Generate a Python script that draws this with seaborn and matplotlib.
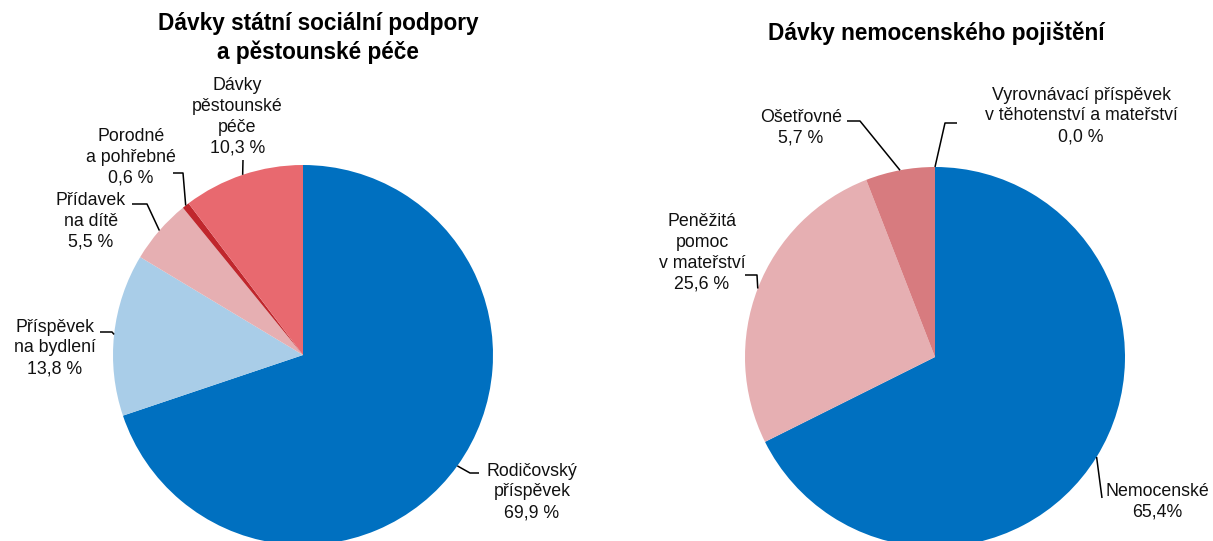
import matplotlib
matplotlib.use("Agg")
import matplotlib.pyplot as plt
import seaborn as sns
import numpy as np

# ---------------- data ----------------
left_title = "Dávky státní sociální podpory\na pěstounské péče"
left_labels = ["Rodičovský\npříspěvek", "Příspěvek\nna bydlení", "Přídavek\nna dítě",
               "Porodné\na pohřebné", "Dávky\npěstounské\npéče"]
left_values = [69.9, 13.8, 5.5, 0.6, 10.3]

right_title = "Dávky nemocenského pojištění"
right_labels = ["Nemocenské", "Peněžitá\npomoc\nv mateřství", "Ošetřovné",
                "Vyrovnávací příspěvek\nv těhotenství a mateřství"]
right_values = [65.4, 25.6, 5.7, 0.0]
right_pct_sep = ["", " ", " ", " "]

# ---------------- style ----------------
left_colors = ["#0070C0", "#A9CDE8", "#E6AFB2", "#C0272D", "#E8696F"]
right_colors = ["#0070C0", "#E6AFB2", "#D77B7F", "#C0272D"]

sns.set_theme(style="white")
plt.rcParams['font.family'] = ['Liberation Sans', 'DejaVu Sans']

W, H = 1213, 541
fig = plt.figure(figsize=(W / 100, H / 100), dpi=100)
ax = fig.add_axes([0, 0, 1, 1])


def P(x, y):
    """pixel position (from top-left) -> data coords"""
    return (x, H - y)


R = 190
left_center = P(303, 355)
right_center = P(935, 357)

# label layout (pixel positions)
left_text_pos = [(532, 492), (55, 348), (91, 221), (131, 157), (237.5, 117)]
left_leader_via = [[(470, 473), (479, 473)], [(112, 332), (100, 332)],
                   [(147, 204), (132, 204)], [(183, 173), (173, 173)], [(243, 160)]]
right_text_pos = [(1157, 502), (702, 253), (801, 128), (1081, 116)]
right_leader_via = [[(1102, 498)], [(757, 275), (745, 275)],
                    [(860, 121), (847, 121)], [(945, 123), (957, 123)]]

FS = 12.8


def fmt(v, sep=" "):
    return f"{v:.1f}".replace(".", ",") + sep + "%"


def draw_pie(values, colors, center, labels, seps, tpos, vias):
    wedges, _ = ax.pie(values, colors=colors, startangle=90, counterclock=False,
                       radius=R, center=center, normalize=True,
                       wedgeprops=dict(linewidth=0))
    for w, lab, v, sep, tp, via in zip(wedges, labels, values, seps, tpos, vias):
        mid = np.deg2rad((w.theta1 + w.theta2) / 2)
        anchor = (center[0] + R * np.cos(mid), center[1] + R * np.sin(mid))
        pts = [anchor] + [P(*p) for p in via]
        xs, ys = zip(*pts)
        ax.plot(xs, ys, color="black", lw=1.1, solid_capstyle="butt")
        ax.text(*P(*tp), lab + "\n" + fmt(v, sep), ha="center", va="center",
                multialignment="center", fontsize=FS, color="#111111", linespacing=1.3)


draw_pie(left_values, left_colors, left_center, left_labels, [" "] * 5,
         left_text_pos, left_leader_via)
draw_pie(right_values, right_colors, right_center, right_labels, right_pct_sep,
         right_text_pos, right_leader_via)

ax.text(*P(318, 38), left_title, ha="center", va="center", fontsize=16.3,
        fontweight="bold", linespacing=1.3, color="black")
ax.text(*P(936, 33), right_title, ha="center", va="center", fontsize=16.3,
        fontweight="bold", color="black")

ax.set_xlim(0, W)
ax.set_ylim(0, H)
ax.set_aspect("auto")
ax.axis("off")

fig.savefig("out.png", dpi=100, facecolor="white")
